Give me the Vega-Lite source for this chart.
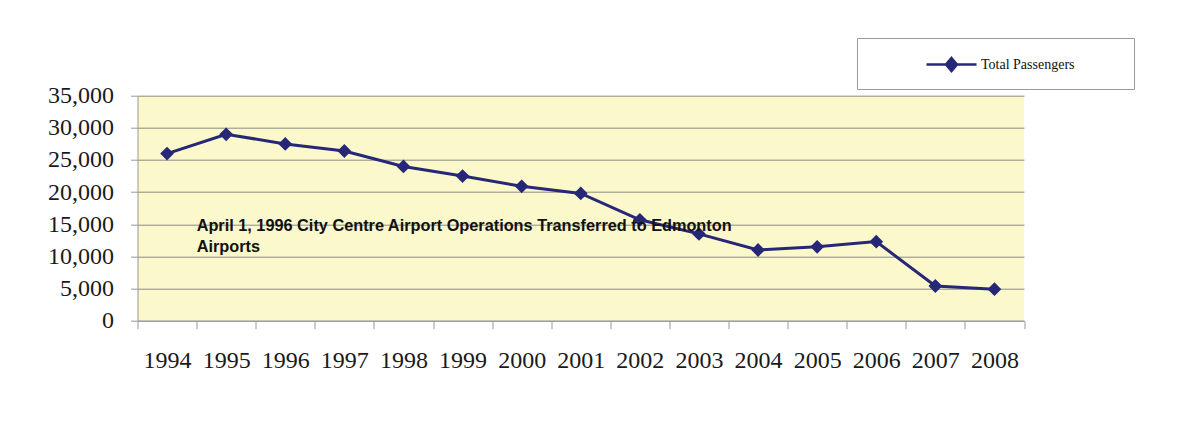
{
  "$schema": "https://vega.github.io/schema/vega-lite/v6.json",
  "width": 886.5,
  "height": 225,
  "autosize": {"type": "none"},
  "padding": {"left": 137.5, "top": 95.7, "right": 172, "bottom": 107.3},
  "background": "white",
  "config": {
    "view": {"fill": "#FBF8CB", "stroke": null},
    "axis": {
      "labelFont": "Liberation Serif",
      "labelFontSize": 24,
      "labelColor": "#1a1a1a",
      "domainColor": "#9a9a9a",
      "tickColor": "#9a9a9a",
      "gridColor": "#8c8c84",
      "labelOverlap": false,
      "title": null
    },
    "axisY": {"values": [0, 5000, 10000, 15000, 20000, 25000, 30000, 35000], "format": ",.0f", "tickSize": 7, "labelPadding": 17, "grid": true},
    "scale": {"bandPaddingInner": 0, "bandPaddingOuter": 0}
  },
  "data": {
    "values": [
      {"year": "1994", "passengers": 26000, "series": "Total Passengers"},
      {"year": "1995", "passengers": 29000, "series": "Total Passengers"},
      {"year": "1996", "passengers": 27500, "series": "Total Passengers"},
      {"year": "1997", "passengers": 26400, "series": "Total Passengers"},
      {"year": "1998", "passengers": 24000, "series": "Total Passengers"},
      {"year": "1999", "passengers": 22500, "series": "Total Passengers"},
      {"year": "2000", "passengers": 20900, "series": "Total Passengers"},
      {"year": "2001", "passengers": 19800, "series": "Total Passengers"},
      {"year": "2002", "passengers": 15700, "series": "Total Passengers"},
      {"year": "2003", "passengers": 13500, "series": "Total Passengers"},
      {"year": "2004", "passengers": 11000, "series": "Total Passengers"},
      {"year": "2005", "passengers": 11500, "series": "Total Passengers"},
      {"year": "2006", "passengers": 12300, "series": "Total Passengers"},
      {"year": "2007", "passengers": 5400, "series": "Total Passengers"},
      {"year": "2008", "passengers": 4900, "series": "Total Passengers"}
    ]
  },
  "layer": [
    {
      "mark": {"type": "line", "strokeWidth": 3},
      "encoding": {
        "x": {"field": "year", "type": "ordinal", "scale": {"paddingInner": 0, "paddingOuter": 0},
              "axis": {"labelAngle": 0, "tickSize": 8, "tickBand": "extent", "labelPadding": 20, "grid": false}},
        "y": {"field": "passengers", "type": "quantitative", "scale": {"domain": [0, 35000], "nice": false}},
        "color": {
          "field": "series",
          "type": "nominal",
          "scale": {"range": ["#272778"]},
          "legend": {
            "orient": "none",
            "legendX": 719.5,
            "legendY": -57.7,
            "title": null,
            "padding": 0,
            "strokeColor": "#9a9a9a",
            "fillColor": "white",
            "symbolType": "M-1,0H1M0,-0.26L0.22,0L0,0.26L-0.22,0ZM7.1,0.76",
            "symbolSize": 2500,
            "symbolOffset": 68,
            "labelOffset": 3,
            "labelFont": "Liberation Serif",
            "labelFontSize": 14,
            "labelColor": "#111111",
            "symbolStrokeWidth": 2.5,
            "symbolFillColor": "#272778",
            "symbolStrokeColor": "#272778"
          }
        }
      }
    },
    {
      "mark": {"type": "point", "shape": "diamond", "filled": true, "size": 190, "opacity": 1},
      "encoding": {
        "x": {"field": "year", "type": "ordinal",
              "axis": {"labelAngle": 0, "tickSize": 8, "tickBand": "extent", "labelPadding": 20, "grid": false}},
        "y": {"field": "passengers", "type": "quantitative"},
        "color": {"field": "series", "type": "nominal", "scale": {"range": ["#272778"]}}
      }
    },
    {
      "data": {"values": [{"note": "April 1, 1996 City Centre Airport Operations Transferred to Edmonton\nAirports"}]},
      "mark": {
        "type": "text",
        "font": "Liberation Sans",
        "fontWeight": "bold",
        "fontSize": 16.3,
        "align": "left",
        "baseline": "alphabetic",
        "lineBreak": "\n",
        "lineHeight": 21,
        "dx": -29.5,
        "color": "#111111"
      },
      "encoding": {
        "x": {"datum": "1995", "type": "ordinal",
              "axis": {"labelAngle": 0, "tickSize": 8, "tickBand": "extent", "labelPadding": 20, "grid": false}},
        "y": {"datum": 14000, "type": "quantitative"},
        "text": {"field": "note", "type": "nominal"}
      }
    }
  ]
}
